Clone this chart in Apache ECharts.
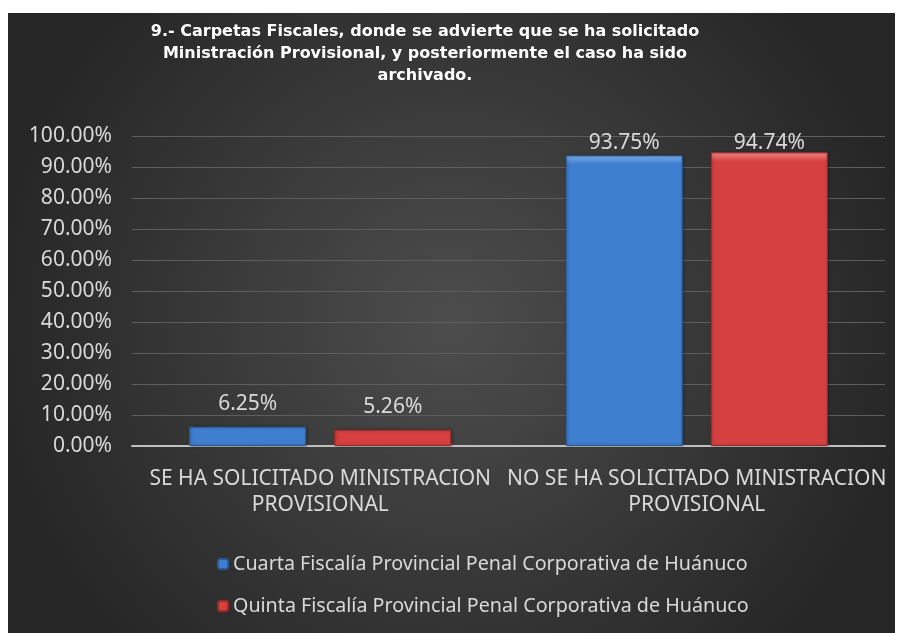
<!DOCTYPE html>
<html>
<head>
<meta charset="utf-8">
<script src="https://cdn.jsdelivr.net/npm/echarts@6/dist/echarts.min.js"></script>
<style>
    html, body { margin: 0; padding: 0; background: #ffffff; }
    #main { position: absolute; left: 8px; top: 13px; width: 887px; height: 620px; }
</style>
</head>
<body>
<div id="main"></div>
<script>
var titulo = '9.- Carpetas Fiscales, donde se advierte que se ha solicitado\nMinistración Provisional, y posteriormente el caso ha sido\narchivado.';
var categorias = ['SE HA SOLICITADO MINISTRACION\nPROVISIONAL', 'NO SE HA SOLICITADO MINISTRACION\nPROVISIONAL'];
var nombres = [
    'Cuarta Fiscalía Provincial Penal Corporativa de Huánuco',
    'Quinta Fiscalía Provincial Penal Corporativa de Huánuco'
];
var cuarta = [6.25, 93.75];
var quinta = [5.26, 94.74];

var fuente = 'Noto Sans';

function barra(color, borde, luz) {
    // relleno con bisel aproximado
    return {
        color: new echarts.graphic.LinearGradient(0, 0, 0, 1, [
            { offset: 0, color: luz },
            { offset: 0.03, color: color },
            { offset: 1, color: color }
        ]),
        borderColor: borde,
        borderWidth: 1,
        shadowColor: 'rgba(0,0,0,0.35)',
        shadowBlur: 3,
        shadowOffsetX: 1
    };
}

var etiqueta = {
    show: true,
    position: 'top',
    distance: 12,
    color: '#d9d9d9',
    fontFamily: fuente,
    fontSize: 21,
    formatter: function (p) { return p.value.toFixed(2) + '%'; }
};

var myChart = echarts.init(document.getElementById('main'));
myChart.setOption({
    backgroundColor: new echarts.graphic.RadialGradient(0.5, 0.5, 0.75, [
        { offset: 0, color: '#4d4d4d' },
        { offset: 1, color: '#262626' }
    ]),
    animation: false,
    title: {
        text: titulo,
        left: 412,
        textAlign: 'center',
        top: 3,
        textStyle: {
            color: '#ffffff',
            fontFamily: 'DejaVu Sans',
            fontWeight: 'bold',
            fontSize: 16,
            lineHeight: 22
        }
    },
    grid: {
        left: 124,
        right: 10,
        top: 123,
        bottom: 187
    },
    legend: {
        orient: 'vertical',
        left: 204,
        top: 535,
        itemWidth: 10,
        itemHeight: 10,
        itemGap: 20,
        textStyle: {
            color: '#d9d9d9',
            fontFamily: fuente,
            fontSize: 19.7,
            lineHeight: 22
        },
        data: nombres
    },
    xAxis: {
        type: 'category',
        data: categorias,
        axisLine: { lineStyle: { color: '#bfbfbf', width: 2 } },
        axisTick: { show: false },
        axisLabel: {
            interval: 0,
            color: '#d9d9d9',
            fontFamily: fuente,
            fontSize: 21,
            lineHeight: 26,
            margin: 20
        }
    },
    yAxis: {
        type: 'value',
        min: 0,
        max: 100,
        interval: 10,
        axisLine: { show: false },
        axisTick: { show: false },
        splitLine: { lineStyle: { color: '#5e5e5e', width: 1 } },
        axisLabel: {
            color: '#d9d9d9',
            fontFamily: fuente,
            fontSize: 21,
            margin: 20,
            formatter: function (v) { return v.toFixed(2) + '%'; }
        }
    },
    // las etiquetas que salen del area se bajan, como en Excel
    labelLayout: function (params) {
        if (params.labelRect.y < 116) {
            return {
                x: params.rect.x + params.rect.width / 2,
                y: 130,
                align: 'center',
                verticalAlign: 'middle'
            };
        }
    },
    series: [{
        name: nombres[0],
        type: 'bar',
        data: cuarta,
        barWidth: 117,
        barGap: '24%',
        itemStyle: barra('#3f7fd0', '#2b5a98', '#7fb0ea'),
        label: etiqueta
    }, {
        name: nombres[1],
        type: 'bar',
        data: quinta,
        barWidth: 117,
        barGap: '24%',
        itemStyle: barra('#d64140', '#9c2b2a', '#f08a88'),
        label: etiqueta
    }]
});
</script>
</body>
</html>
